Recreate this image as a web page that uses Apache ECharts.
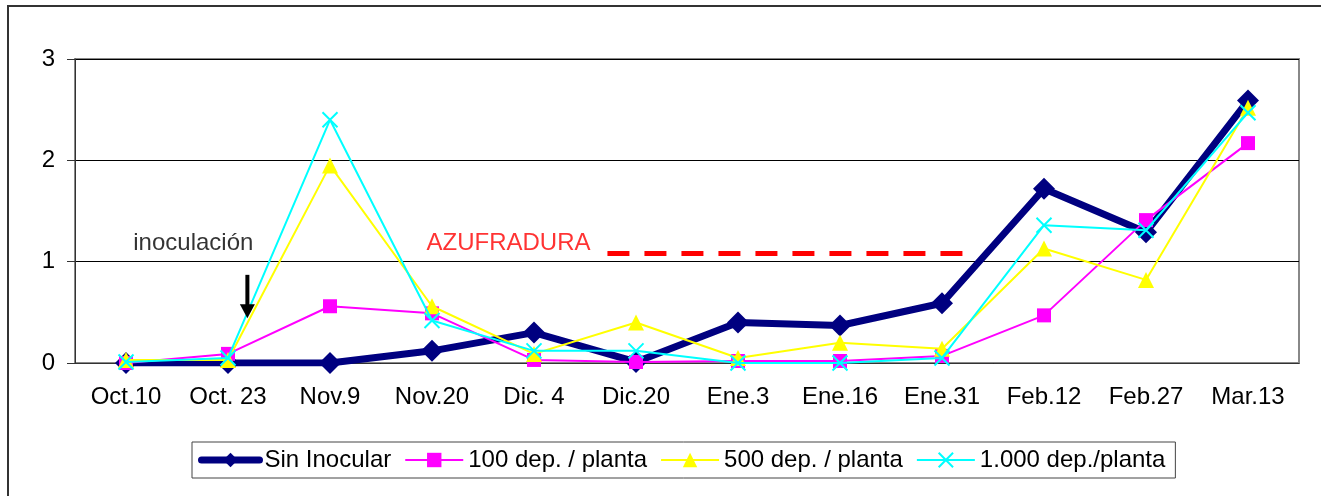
<!DOCTYPE html>
<html>
<head>
<meta charset="utf-8">
<script src="https://cdn.jsdelivr.net/npm/echarts@6/dist/echarts.min.js"></script>
<style>html,body{margin:0;padding:0;background:#fff;}#c{width:1321px;height:496px;}</style>
</head>
<body>
<div id="c"></div>
<script>
const categories = ['Oct.10','Oct. 23','Nov.9','Nov.20','Dic. 4','Dic.20','Ene.3','Ene.16','Ene.31','Feb.12','Feb.27','Mar.13'];
const sinInocular = [0, 0, 0, 0.12, 0.30, 0.01, 0.40, 0.37, 0.59, 1.72, 1.29, 2.59];
const dep100 = [0, 0.09, 0.56, 0.49, 0.03, 0.01, 0.02, 0.02, 0.07, 0.47, 1.41, 2.17];
const dep500 = [0.03, 0.03, 1.95, 0.56, 0.09, 0.40, 0.05, 0.20, 0.14, 1.13, 0.82, 2.52];
const dep1000 = [0.01, 0.05, 2.40, 0.42, 0.12, 0.12, 0, 0, 0.05, 1.36, 1.31, 2.47];
const yTicks = [0, 1, 2, 3];
// annotations (on a hidden continuous x scale 0..12, category i centred at i+0.5)
const azufraduraLine = [[5.22, 1.08], [8.72, 1.08]];
const arrowPts = [[1.69, 0.87], [1.69, 0.51]];
const notes = [{ text: 'inoculación', x: 1.16, y: 1.185, color: '#000' }, { text: 'AZUFRADURA', x: 4.25, y: 1.185, color: '#ff0000' }];

const font = 'Liberation Sans, Arial, sans-serif';
const FS = 24;
const chart = echarts.init(document.getElementById('c'));
const cross = 'path://M0,0L10,10M10,0L0,10';
chart.setOption({
  animation: false,
  textStyle: { fontFamily: font },
  graphic: [{ type: 'rect', shape: { x: 8, y: 6, width: 1400, height: 600 }, style: { fill: 'none', stroke: '#333', lineWidth: 2 }, z: 100 }],
  grid: { left: 75, right: 22, top: 59, bottom: 133, show: true, borderColor: '#888', borderWidth: 2 },
  legend: {
    left: 192, top: 442, padding: [6, 10, 6, 6], itemGap: 13, itemWidth: 58, itemHeight: 18,
    borderColor: '#444', borderWidth: 1, textStyle: { fontSize: FS, color: '#000', fontFamily: font },
    data: [
      { name: 'Sin Inocular', lineStyle: { width: 7, cap: 'round' } },
      '100 dep. / planta', '500 dep. / planta', '1.000 dep./planta'
    ]
  },
  xAxis: [{
    type: 'category', data: categories, boundaryGap: true,
    axisLine: { lineStyle: { color: '#333', width: 1 } },
    axisTick: { length: 8, lineStyle: { color: '#333' } },
    axisLabel: { fontSize: FS, color: '#000', margin: 22, fontFamily: font, interval: 0 }
  }, {
    type: 'value', min: 0, max: 12, show: false
  }],
  yAxis: {
    type: 'value', min: 0, max: 3, interval: 1,
    axisLine: { show: true, lineStyle: { color: '#333', width: 1 } },
    axisTick: { show: true, length: 8, lineStyle: { color: '#333' } },
    axisLabel: { fontSize: FS, color: '#000', margin: 20, fontFamily: font, formatter: v => yTicks.includes(v) ? String(v) : '' },
    splitLine: { lineStyle: { color: '#000', width: 1 } }
  },
  series: [
    { name: 'Sin Inocular', type: 'line', data: sinInocular, symbol: 'diamond', symbolSize: 22,
      lineStyle: { color: '#000080', width: 7 }, itemStyle: { color: '#000080' }, z: 2 },
    { name: '100 dep. / planta', type: 'line', data: dep100, symbol: 'rect', symbolSize: 14,
      lineStyle: { color: '#ff00ff', width: 2 }, itemStyle: { color: '#ff00ff' }, z: 3 },
    { name: '500 dep. / planta', type: 'line', data: dep500, symbol: 'triangle', symbolSize: 16,
      lineStyle: { color: '#ffff00', width: 2 }, itemStyle: { color: '#ffff00' }, z: 4 },
    { name: '1.000 dep./planta', type: 'line', data: dep1000, symbol: cross, symbolSize: 15,
      lineStyle: { color: '#00ffff', width: 2 }, itemStyle: { color: '#00ffff', borderColor: '#00ffff', borderWidth: 2 }, z: 5 },
    { name: 'azufradura', type: 'line', xAxisIndex: 1, data: azufraduraLine, symbol: 'none',
      lineStyle: { color: '#ff0000', width: 5, type: [22, 15] }, silent: true, z: 6 },
    { name: 'arrow', type: 'line', xAxisIndex: 1, silent: true, z: 6,
      data: [{ value: arrowPts[0], symbol: 'none' }, { value: arrowPts[1], symbol: 'triangle', symbolSize: [15, 14], symbolRotate: 180 }],
      lineStyle: { color: '#000', width: 4 }, itemStyle: { color: '#000' } },
    { name: 'notes', type: 'scatter', xAxisIndex: 1, silent: true, symbolSize: 0, z: 7,
      data: notes.map(n => ({ value: [n.x, n.y], label: { show: true, position: 'inside', formatter: n.text, color: n.color, fontSize: FS, fontFamily: font } })) }
  ]
});
</script>
</body>
</html>
